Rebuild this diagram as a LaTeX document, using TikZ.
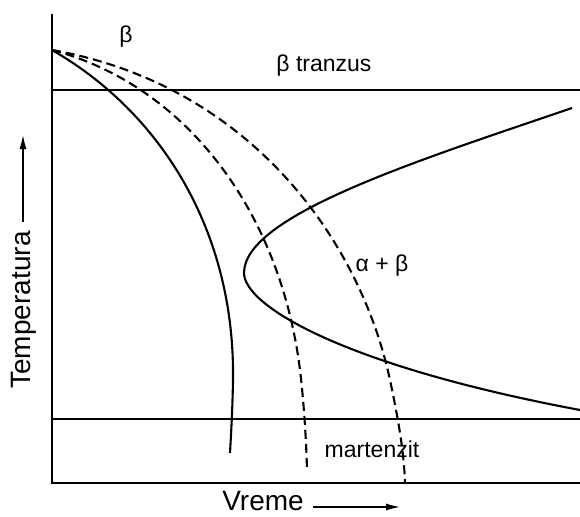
\documentclass[tikz,border=0pt]{standalone}
\usepackage{fontspec}
\setmainfont{Liberation Sans}
\usetikzlibrary{arrows.meta}
\tikzset{
  curve/.style={line width=2.1pt, line join=round},
  dcurve/.style={curve, dash pattern=on 9pt off 5pt},
  axis/.style={line width=1.5pt},
  hline/.style={line width=1.3pt},
  lbl/.style={font=\fontsize{23}{27}\selectfont, inner sep=0pt},
  axlbl/.style={font=\fontsize{28}{32}\selectfont, inner sep=0pt},
  arr/.style={line width=1.3pt, -{Latex[length=14pt,width=7pt]}}
}
\begin{document}
\begin{tikzpicture}[x=1pt,y=-1pt]
\useasboundingbox (0,0) rectangle (580,516);
% axes
\coordinate (top) at (52,14);
\coordinate (origin) at (52,483);
\coordinate (right) at (580,483);
\draw[axis] (top) -- (origin) -- (right);
% horizontal lines
\coordinate (t1) at (52,90);
\coordinate (t2) at (580,90);
\coordinate (m1) at (52,419);
\coordinate (m2) at (580,419);
\draw[hline] (t1) -- (t2);
\draw[hline] (m1) -- (m2);
% common start
\coordinate (s) at (52,50);
% solid curve
\draw[curve] (s) .. controls (160,112) and (235,230) .. (233,380)
  .. controls (232.5,410) and (231,435) .. (230,453);
% dashed curves
\draw[dcurve] (s) .. controls (185,85) and (280,210) .. (300,370)
  .. controls (302.5,390) and (306,430) .. (307,470);
\draw[dcurve] (s) .. controls (250,85) and (360,240) .. (390,380)
  .. controls (397,413) and (404,450) .. (405,483);
% C curve
\draw[curve] (572,108) .. controls (420,160) and (244,215) .. (244,273)
  .. controls (244,305) and (340,365) .. (580,410);
% labels
\node[lbl] (beta) at (126,37) {β};
\node[lbl] (tranzus) at (324,66) {β tranzus};
\node[lbl] (ab) at (382,266) {α + β};
\node[lbl] (mart) at (372,449) {martenzit};
\node[axlbl] (vreme) at (263,501) {Vreme};
\node[axlbl, rotate=90] (temp) at (24,310) {Temperatura};
\coordinate (va) at (313,507);
\coordinate (vb) at (400,507);
\draw[arr] (va) -- (vb);
\coordinate (ta) at (23,222);
\coordinate (tb) at (23,135);
\draw[arr] (ta) -- (tb);
\end{tikzpicture}
\end{document}
